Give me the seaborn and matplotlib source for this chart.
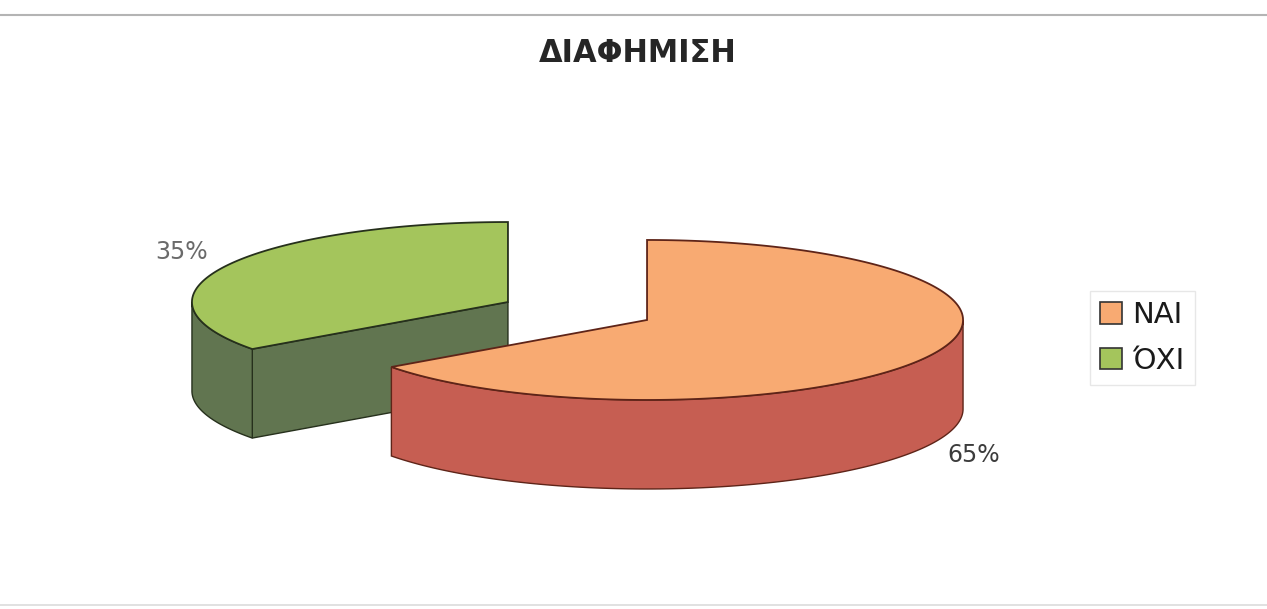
import numpy as np
import matplotlib
matplotlib.use("Agg")
import matplotlib.pyplot as plt
from matplotlib.patches import Polygon, Patch
import seaborn as sns

# Dados do gráfico
categorias = ['ΝΑΙ', 'ΌΧΙ']
valores = [65, 35]
rotulos = ['65%', '35%']
titulo = 'ΔΙΑΦΗΜΙΣΗ'

# Cores (topo, lateral, borda)
cores_topo = ['#F8AA72', '#A4C55C']
cores_lado = ['#C65E52', '#617550']
cores_borda = ['#5E2418', '#26301C']

sns.set_theme(style='white')
plt.rcParams['font.family'] = ['DejaVu Sans']

fig = plt.figure(figsize=(12.67, 6.09), dpi=100)
ax = fig.add_axes([0, 0, 1, 1])
ax.set_xlim(0, 1267)
ax.set_ylim(609, 0)
ax.axis('off')

# Geometria da pizza 3D (projeção oblíqua)
cx, cy = 577.5, 311
a, b = 316, 80
altura = 89
explode = 0.247


def arco(xc, yc, t1, t2, dz=0, n=200):
    t = np.linspace(t1, t2, n)
    return np.column_stack([xc + a * np.cos(t), yc - b * np.sin(t) + dz])


# Calcular ângulos das fatias (começa às 12h, sentido horário)
total = sum(valores)
fatias = []
inicio = np.pi / 2
for i, v in enumerate(valores):
    fim = inicio
    inicio = fim - 2 * np.pi * v / total
    meio = (inicio + fim) / 2
    xc = cx + explode * a * np.cos(meio)
    yc = cy - explode * b * np.sin(meio)
    fatias.append(dict(i=i, ts=inicio, te=fim, meio=meio, xc=xc, yc=yc))

# Desenhar de trás para frente
for f in sorted(fatias, key=lambda f: f['yc']):
    i, ts, te, xc, yc = f['i'], f['ts'], f['te'], f['xc'], f['yc']

    # Paredes radiais visíveis
    for ang, normal in [(ts, ts - np.pi / 2), (te, te + np.pi / 2)]:
        if np.sin(normal) < -1e-6:
            px, py = xc + a * np.cos(ang), yc - b * np.sin(ang)
            pts = [(xc, yc), (px, py), (px, py + altura), (xc, yc + altura)]
            ax.add_patch(Polygon(pts, closed=True, facecolor=cores_lado[i],
                                 edgecolor=cores_borda[i], lw=1.0, zorder=2))

    # Parede externa (parte frontal)
    t = np.linspace(ts, te, 400)
    vis = t[np.sin(t) < 0]
    if len(vis) > 1:
        cima = arco(xc, yc, vis[0], vis[-1])
        baixo = arco(xc, yc, vis[-1], vis[0], dz=altura)
        ax.add_patch(Polygon(np.vstack([cima, baixo]), closed=True,
                             facecolor=cores_lado[i], edgecolor=cores_borda[i],
                             lw=1.0, zorder=3))

    # Topo
    topo = np.vstack([[xc, yc], arco(xc, yc, ts, te)])
    ax.add_patch(Polygon(topo, closed=True, facecolor=cores_topo[i],
                         edgecolor=cores_borda[i], lw=1.3, zorder=4))

# Rótulos de porcentagem
cores_txt = ['#3c3c3c', '#6a6a6a']
for f in fatias:
    i, m = f['i'], f['meio']
    lx = f['xc'] + 1.16 * a * np.cos(m)
    ly = f['yc'] - 1.16 * b * np.sin(m)
    if np.sin(m) < 0:
        ly += altura + 4
    else:
        ly -= 8
    ax.text(lx, ly, rotulos[i], ha='center', va='center', fontsize=17,
            color=cores_txt[i], zorder=5)

# Título
ax.text(638, 53, titulo, ha='center', va='center', fontsize=22,
        fontweight='bold', color='#262626')

# Moldura do gráfico
ax.axhline(15, color='#b4b4b4', lw=1.5)
ax.axhline(605, color='#dcdcdc', lw=1.2)

# Legenda
handles = [Patch(facecolor=cores_topo[i], edgecolor='#333333', lw=1.2,
                 label=categorias[i]) for i in range(len(categorias))]
leg = ax.legend(handles=handles, loc='center left', bbox_to_anchor=(0.860, 0.445),
                borderaxespad=0, fontsize=21, frameon=True, fancybox=False,
                edgecolor='#e2e2e2', handlelength=0.76, handleheight=0.76,
                handletextpad=0.35, labelspacing=0.6, borderpad=0.35)
for txt in leg.get_texts():
    txt.set_color('#1a1a1a')

plt.savefig('out.png', dpi=100)
